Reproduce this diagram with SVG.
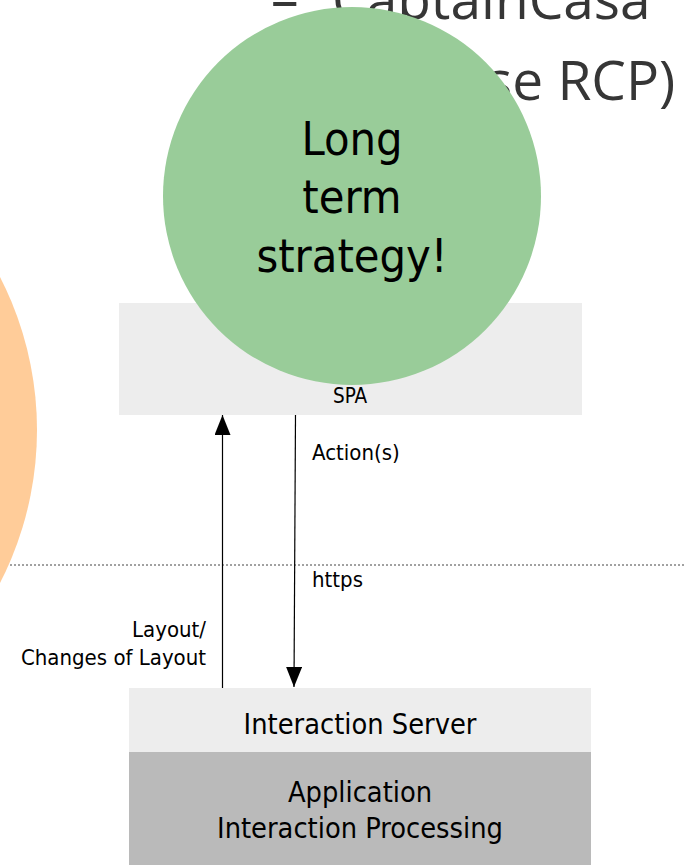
<svg xmlns="http://www.w3.org/2000/svg" width="685" height="865" viewBox="0 0 685 865">
<defs>
<style>
.title{font-family:"Open Sans","DejaVu Sans",sans-serif;font-size:55px;fill:#363636}
.lbl{font-family:"DejaVu Sans Condensed","DejaVu Sans",sans-serif;font-size:22px;fill:#000}
.big{font-family:"DejaVu Sans Condensed","DejaVu Sans",sans-serif;font-size:28.7px;fill:#000;text-anchor:middle}
.green{font-family:"DejaVu Sans Condensed","DejaVu Sans",sans-serif;font-size:46.5px;fill:#000;text-anchor:middle}
.light{fill:#EDEDED}
.conn{stroke:#000;stroke-width:1.2;fill:none}
</style>
<marker id="ah" viewBox="0 0 20 16" refX="20" refY="8" markerWidth="20" markerHeight="16" markerUnits="userSpaceOnUse" orient="auto">
<path d="M0,0 L20,8 L0,16 Z" fill="#000"/>
</marker>
</defs>
<rect width="685" height="865" fill="#fff"/>
<g id="title">
<text class="title" y="19"><tspan x="271">–</tspan><tspan x="332">CaptainCasa</tspan></text>
<text class="title" x="486" y="100">se RCP)</text>
</g>
<g id="orange-circle"><circle cx="-298" cy="430" r="335" fill="#FFCC99"/></g>
<g id="spa">
<rect class="light" x="119" y="303" width="463" height="112"/>
</g>
<g id="strategy">
<circle cx="352" cy="196" r="189" fill="#99CC99"/>
<text class="green" x="352" y="155">Long</text>
<text class="green" x="352" y="213">term</text>
<text class="green" x="352" y="272">strategy!</text>
</g>
<g id="spa-label"><text class="lbl" x="350" y="403" text-anchor="middle" style="font-size:20.5px">SPA</text></g>
<g id="interaction-server">
<rect class="light" x="129" y="688" width="462" height="64"/>
<text class="big" x="360" y="734">Interaction Server</text>
</g>
<g id="application">
<rect x="129" y="752" width="462" height="113" fill="#BABABA"/>
<text class="big" x="360" y="802">Application</text>
<text class="big" x="360" y="838">Interaction Processing</text>
</g>
<g id="connectors">
<line x1="10" y1="565" x2="685" y2="565" stroke="#444" stroke-width="1" stroke-dasharray="2 2"/>
<line class="conn" x1="222.5" y1="688" x2="222.5" y2="415" marker-end="url(#ah)"/>
<line class="conn" x1="295.5" y1="415" x2="294" y2="687" marker-end="url(#ah)"/>
<text class="lbl" x="312" y="460">Action(s)</text>
<text class="lbl" x="312" y="587">https</text>
<text class="lbl" x="206" y="637" text-anchor="end">Layout/</text>
<text class="lbl" x="206" y="665" text-anchor="end">Changes of Layout</text>
</g>
</svg>
